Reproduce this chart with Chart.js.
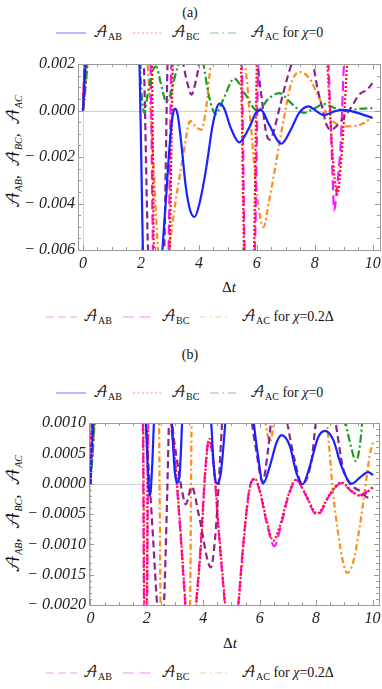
<!DOCTYPE html>
<html><head><meta charset="utf-8">
<script src="https://cdn.jsdelivr.net/npm/chart.js@4.4.1/dist/chart.umd.min.js"></script>
<style>
body{margin:0;width:382px;height:689px;position:relative;background:#fff;overflow:hidden;font-family:"Liberation Serif","Times New Roman",serif;color:#111}
.l{position:absolute;white-space:nowrap;transform:translateY(-50%);font-size:14px;line-height:1}
.c{position:absolute;white-space:nowrap;transform:translate(-50%,-50%);font-size:14px;line-height:1}
.sa{font-family:"DejaVu Math TeX Gyre","DejaVu Serif","Liberation Serif",serif;font-style:normal}
sub{font-size:10px;vertical-align:-3px;line-height:0}
.yt{position:absolute;white-space:nowrap;transform:translate(-50%,-50%) rotate(-90deg);font-style:italic;line-height:1}
svg{position:absolute}
canvas{position:absolute;left:0}
</style></head>
<body>
<div class="c" style="left:190px;top:13px">(a)</div>
<div class="c" style="left:190px;top:355px">(b)</div>
<div id="leg"></div>
<div class="c" style="left:229px;top:287px;font-size:15px">Δ<i>t</i></div>
<div class="c" style="left:230px;top:643px;font-size:15px">Δ<i>t</i></div>
<div class="yt" style="left:14px;top:152px;font-size:16px"><span class="sa">𝒜</span><sub><i>AB</i></sub>,&nbsp; <span class="sa">𝒜</span><sub><i>BC</i></sub>,&nbsp; <span class="sa">𝒜</span><sub><i>AC</i></sub></div>
<div class="yt" style="left:14px;top:514px;font-size:17px"><span class="sa">𝒜</span><sub><i>AB</i></sub>,&nbsp; <span class="sa">𝒜</span><sub><i>BC</i></sub>,&nbsp; <span class="sa">𝒜</span><sub><i>AC</i></sub></div>
<canvas id="ca" width="382" height="260" style="top:40px"></canvas>
<canvas id="cb" width="382" height="260" style="top:400px"></canvas>
<script>
// ---------- data: panel (a) ----------
const xTicksA = [0, 2, 4, 6, 8, 10];
const yTicksA = [-0.006, -0.004, -0.002, 0, 0.002];
const yLabelsA = ['− 0.006', '− 0.004', '− 0.002', '0.000', '0.002'];
const aAB0 = [[0,0],[0.05,0.0011],[0.1,0.0022],[0.4,0.007],[1.0,0.011],[1.7,0.007],[1.95,0.0021],[2.01,-0.002],[2.07,-0.0062],[2.3,-0.011],[2.6,-0.009],[2.73,-0.0062],[2.87,-0.0037],[2.99,-0.0015],[3.1,-0.0002],[3.18,0.00008],[3.27,-0.0002],[3.4,-0.0015],[3.55,-0.0033],[3.7,-0.0043],[3.85,-0.00458],[4.02,-0.0040],[4.25,-0.0025],[4.48,-0.0006],[4.71,0.0003],[4.87,0.0001],[5.1,-0.00075],[5.39,-0.00137],[5.73,-0.00075],[5.97,-0.0001],[6.14,0.00003],[6.42,-0.0006],[6.85,-0.00143],[7.17,-0.00083],[7.46,-0.0001],[7.78,0.00018],[8.09,-0.00006],[8.32,-0.0002],[8.67,-0.00004],[8.95,0.00003],[9.47,-0.0001],[9.99,-0.00032]];
const aBC0 = [[0,0],[0.03,0.0011],[0.06,0.0023],[0.3,0.008],[1.2,0.012],[2.2,0.006],[2.38,0.0021],[2.45,-0.0062],[2.7,-0.01],[2.99,-0.0062],[3.1,0.0021],[3.3,0.006],[4.4,0.012],[5.3,0.006],[5.45,0.0021],[5.56,-0.0062],[5.75,-0.01],[5.9,-0.0062],[6.0,0.0021],[6.2,0.006],[7.4,0.012],[8.3,0.006],[8.43,0.0021],[8.55,-0.0006],[8.66,-0.0026],[8.78,-0.0036],[8.92,-0.002],[9.03,0.0001],[9.12,0.0021],[9.4,0.006],[9.99,0.011]];
const aAC0 = [[0,0],[0.08,0.0009],[0.16,0.0021],[0.5,0.005],[1.1,0.007],[1.75,0.005],[1.95,0.0021],[2.03,0.0006],[2.12,-0.0001],[2.22,0.0006],[2.38,0.0016],[2.52,0.0019],[2.68,0.0012],[2.87,0.0004],[3.05,0.0008],[3.2,0.0016],[3.33,0.0021],[3.7,0.004],[4.14,0.0021],[4.35,0.0006],[4.58,-0.00015],[4.85,0.0005],[5.22,0.00137],[5.6,0.0007],[6.02,-0.00001],[6.4,0.0005],[6.77,0.00075],[7.2,0.0003],[7.63,-0.0001],[8.0,0.0001],[8.32,0.00028],[8.7,0.0001],[9.12,-0.00003],[9.5,0.00007],[9.99,0.0001]];
const aAB2 = [[0,0],[0.03,0.0011],[0.06,0.0023],[0.3,0.008],[1.2,0.012],[1.95,0.006],[2.1,0.0021],[2.25,-0.0062],[2.5,-0.01],[2.8,-0.0062],[2.92,0.0021],[3.1,0.005],[3.3,0.0035],[3.45,0.0021],[3.62,0.0011],[3.74,0.00068],[3.9,0.0013],[4.02,0.0021],[4.3,0.005],[5.2,0.008],[5.85,0.004],[6.02,0.0021],[6.08,0.0014],[6.2,0.0002],[6.31,-0.0009],[6.45,-0.00125],[6.58,-0.0009],[6.8,0.0002],[7.05,0.0014],[7.23,0.0021],[7.55,0.003],[7.92,0.0021],[8.1,0.0009],[8.26,0.0001],[8.4,-0.0006],[8.55,-0.00083],[8.9,-0.00046],[9.24,0.0001],[9.53,0.00068],[9.81,0.0009],[9.99,0.00118]];
const aBC2 = [[0,0],[0.03,0.0011],[0.06,0.0023],[0.3,0.008],[1.2,0.012],[2.1,0.006],[2.33,0.0021],[2.42,-0.0062],[2.7,-0.01],[2.95,-0.0062],[3.05,0.0021],[3.3,0.006],[4.4,0.012],[5.35,0.006],[5.48,0.0021],[5.58,-0.0062],[5.75,-0.01],[5.93,-0.0062],[6.05,0.0021],[6.3,0.006],[7.4,0.012],[8.3,0.006],[8.47,0.0021],[8.55,-0.0006],[8.62,-0.003],[8.67,-0.0043],[8.76,-0.0034],[8.9,-0.0013],[9.01,0.0021],[9.3,0.006],[9.99,0.011]];
const aAC2 = [[0,0],[0.08,0.0009],[0.16,0.0021],[0.5,0.005],[1.2,0.008],[2.0,0.004],[2.22,0.0021],[2.4,-0.0015],[2.6,-0.0062],[2.78,-0.008],[2.95,-0.0062],[3.2,-0.0039],[3.45,-0.002],[3.7,-0.00046],[3.9,-0.0007],[4.08,-0.00083],[4.25,0.0001],[4.42,0.0021],[4.9,0.004],[5.3,0.003],[5.58,0.0021],[5.79,-0.0006],[5.97,-0.0032],[6.14,-0.00477],[6.23,-0.00502],[6.42,-0.0039],[6.65,-0.00233],[6.83,-0.00104],[7.0,0.0001],[7.17,0.00111],[7.46,0.00166],[7.8,0.0014],[8.15,0.00054],[8.43,-0.00018],[8.78,-0.0006],[9.12,-0.00068],[9.59,-0.0006],[9.99,-0.00029]];

// ---------- data: panel (b) ----------
const xTicksB = [0, 2, 4, 6, 8, 10];
const yTicksB = [-0.002, -0.0015, -0.001, -0.0005, 0, 0.0005, 0.001];
const yLabelsB = ['− 0.0020', '− 0.0015', '− 0.0010', '− 0.0005', '0.0000', '0.0005', '0.0010'];
const bAB0 = [[0,0],[0.05,0.0006],[0.12,0.0011],[0.5,0.004],[1.2,0.006],[1.8,0.003],[1.96,0.0011],[2.04,0.0002],[2.11,-0.0002],[2.18,0.0002],[2.26,0.0011],[2.5,0.003],[2.7,0.003],[2.88,0.0011],[2.99,0.0002],[3.08,0.00002],[3.17,0.0002],[3.26,0.0011],[3.5,0.003],[4.0,0.003],[4.27,0.0011],[4.39,0.0002],[4.5,0.0],[4.63,0.0002],[4.8,0.0011],[5.2,0.003],[5.6,0.002],[5.77,0.0011],[5.94,0.00046],[6.12,0.0],[6.36,0.00029],[6.6,0.00068],[6.77,0.0008],[7.07,0.00062],[7.3,0.00018],[7.52,-0.00001],[7.78,0.00029],[8.07,0.00076],[8.31,0.00087],[8.6,0.00073],[8.9,0.00029],[9.26,0.0],[9.55,0.0001],[9.85,0.00019],[10.02,0.00014]];
const bBC0 = [[0,0],[0.03,0.0006],[0.06,0.0011],[0.3,0.004],[1.0,0.006],[1.75,0.003],[1.87,0.0011],[1.91,-0.0021],[1.95,-0.004],[2.0,-0.0021],[2.04,0.0011],[2.2,0.004],[2.6,0.004],[2.85,0.0011],[2.97,0.00057],[3.2,-0.00081],[3.38,-0.00204],[3.55,-0.003],[3.73,-0.0021],[3.91,-0.00108],[4.09,0.00029],[4.21,0.00074],[4.38,0.00029],[4.56,-0.00081],[4.8,-0.0021],[5.0,-0.003],[5.23,-0.0021],[5.41,-0.00108],[5.59,-0.00026],[5.71,0.00004],[5.83,0.00008],[6.0,-0.0001],[6.24,-0.00059],[6.48,-0.00094],[6.71,-0.0007],[7.01,-0.0002],[7.3,0.00007],[7.6,-0.00015],[8.04,-0.00049],[8.49,-0.00017],[8.9,0.00002],[9.26,-0.00012],[9.55,-0.0002],[9.79,-0.00015],[10.02,-0.00005]];
const bAC0 = [[0,0],[0.08,0.0005],[0.16,0.0011],[0.5,0.003],[4,0.006],[8.5,0.003],[9.02,0.0011],[9.26,0.00057],[9.41,0.00037],[9.55,0.00062],[9.65,0.0011],[9.8,0.002],[10.02,0.003]];
const bAB2 = [[0,0],[0.03,0.0006],[0.06,0.0011],[0.3,0.004],[1.0,0.006],[1.8,0.003],[1.96,0.0011],[2.17,-0.0005],[2.38,-0.0021],[2.48,-0.0026],[2.6,-0.0021],[2.72,-0.0002],[2.79,0.0011],[2.83,0.0015],[2.88,0.0011],[3.1,0.0003],[3.26,-0.00015],[3.38,-0.00034],[3.59,-0.00005],[3.85,-0.00053],[4.27,-0.00138],[4.42,-0.0009],[4.55,0.0],[4.68,0.0011],[5.0,0.003],[5.5,0.002],[5.7,0.0011],[5.89,0.00051],[6.1,0.00003],[6.3,0.00057],[6.42,0.0011],[6.7,0.002],[6.95,0.0011],[7.24,0.00039],[7.5,0.0],[7.84,0.00039],[8.01,0.0011],[8.3,0.002],[8.66,0.0011],[8.96,0.00025],[9.2,0.0],[9.55,-0.00012],[9.85,-0.00023],[10.02,-0.00022]];
const bBC2 = [[0,0],[0.03,0.0006],[0.06,0.0011],[0.3,0.004],[1.0,0.006],[1.75,0.003],[1.86,0.0011],[1.9,-0.0021],[1.95,-0.004],[2.01,-0.0021],[2.05,0.0011],[2.2,0.004],[2.6,0.004],[2.84,0.0011],[2.96,0.00057],[3.19,-0.00081],[3.37,-0.00204],[3.55,-0.003],[3.72,-0.0021],[3.9,-0.00108],[4.08,0.00029],[4.2,0.00072],[4.37,0.00029],[4.55,-0.00081],[4.79,-0.0021],[5.0,-0.003],[5.22,-0.0021],[5.4,-0.00108],[5.58,-0.00026],[5.7,0.00003],[5.82,0.00007],[6.0,-0.00012],[6.25,-0.00065],[6.52,-0.00103],[6.75,-0.0007],[7.02,-0.0002],[7.3,0.00006],[7.6,-0.00016],[8.04,-0.00052],[8.49,-0.00018],[8.9,0.00001],[9.26,-0.00013],[9.55,-0.00019],[9.8,-0.00013],[10.02,-0.00007]];
const bAC2 = [[0,0],[0.08,0.0005],[0.16,0.0011],[0.5,0.003],[1.3,0.005],[2.2,0.003],[2.43,0.0011],[2.49,-0.0021],[2.8,-0.004],[3.25,-0.004],[3.53,-0.0021],[3.59,0.0011],[3.9,0.003],[5.0,0.004],[6.0,0.002],[6.18,0.0011],[6.37,0.0007],[6.53,0.0011],[6.8,0.002],[7.6,0.004],[8.2,0.002],[8.37,0.0011],[8.49,0.00046],[8.6,-0.00015],[8.78,-0.00081],[8.96,-0.0013],[9.1,-0.00147],[9.31,-0.0013],[9.55,-0.0007],[9.73,-0.0001],[9.9,0.00046],[10.02,0.0007]];

// ---------- styles ----------
const ST = {
  ab0: {c:'#1a22ff', d:[], w:2.2},
  bc0: {c:'#ff1010', d:[2,2], w:2.2},
  ac0: {c:'#1e9e1e', d:[8,3,2,3], w:2.2},
  ab2: {c:'#8c2390', d:[7,4], w:2.2},
  bc2: {c:'#ff14ff', d:[10,5], w:2.2},
  ac2: {c:'#ff8c1a', d:[6,3,2,3], w:2.2}
};
const legendTop = [['ab0','AB',''],['bc0','BC',''],['ac0','AC',' for <i>χ</i>=0']];
const legendBot = [['ab2','AB',''],['bc2','BC',''],['ac2','AC',' for <i>χ</i>=0.2Δ']];
const legLight = {ab0:'#8a8aff', bc0:'#ff9090', ac0:'#8ccc8c', ab2:'#e8a0e8', bc2:'#ff88ff', ac2:'#ffcc99'};

// ---------- legends (HTML) ----------
function legendRow(items, y, xs){
  let h = '';
  items.forEach((it, i) => {
    const s = ST[it[0]], [x0, x1, xt] = xs[i];
    h += `<svg style="left:${x0}px;top:${y-3}px" width="${x1-x0}" height="6"><line x1="0" y1="3" x2="${x1-x0}" y2="3" stroke="${legLight[it[0]]}" stroke-width="1.2" stroke-dasharray="${s.d.length? s.d.map(v=>v*1.1).join(' '):'none'}"/></svg>`;
    h += `<div class="l" style="left:${xt}px;top:${y}px"><span class="sa">𝒜</span><sub>${it[1]}</sub>${it[2]}</div>`;
  });
  return h;
}
const xsTop = [[56,86,93],[133,163,171],[210,240,250]];
const xsBot = [[46,77,83],[123,153,161],[200,230,241]];
document.getElementById('leg').innerHTML =
  legendRow(legendTop, 33, xsTop) + legendRow(legendBot, 317, xsBot) +
  legendRow(legendTop, 393, xsTop) + legendRow(legendBot, 673, xsBot);

// ---------- chart helpers ----------
const toXY = a => a.map(p => ({x:p[0], y:p[1]}));
function ds(key, arr){
  const s = ST[key];
  return {data: toXY(arr), borderColor: s.c, borderWidth: s.w, borderDash: s.d,
          pointRadius: 0, cubicInterpolationMode: 'monotone', fill: false, clip: 0};
}
const framePlugin = {
  id: 'frame',
  beforeDatasetsDraw(chart){
    const {ctx, chartArea:a, scales:{x, y}} = chart;
    ctx.save();
    ctx.strokeStyle = '#cfcfcf'; ctx.lineWidth = 1;
    const y0 = Math.round(y.getPixelForValue(0)) + 0.5, x0 = Math.round(x.getPixelForValue(0)) + 0.5;
    ctx.beginPath(); ctx.moveTo(a.left, y0); ctx.lineTo(a.right, y0);
    ctx.moveTo(x0, a.top); ctx.lineTo(x0, a.bottom); ctx.stroke();
    ctx.restore();
  },
  afterDatasetsDraw(chart, args, o){
    const {ctx, chartArea:a, scales:{x, y}} = chart;
    ctx.save();
    ctx.strokeStyle = '#9a9a9a'; ctx.lineWidth = 1;
    ctx.strokeRect(Math.round(a.left)+0.5, Math.round(a.top)+0.5, Math.round(a.right-a.left), Math.round(a.bottom-a.top));
    ctx.beginPath();
    const xt = (v, L) => { const p = Math.round(x.getPixelForValue(v))+0.5;
      ctx.moveTo(p, a.bottom); ctx.lineTo(p, a.bottom-L); ctx.moveTo(p, a.top); ctx.lineTo(p, a.top+L); };
    const yt = (v, L) => { const p = Math.round(y.getPixelForValue(v))+0.5;
      ctx.moveTo(a.left, p); ctx.lineTo(a.left+L, p); ctx.moveTo(a.right, p); ctx.lineTo(a.right-L, p); };
    const nx = Math.round((o.xMax - o.xMin) / o.xMinor);
    for (let i = 0; i <= nx; i++) { const v = o.xMin + i*o.xMinor; xt(v, o.xMajor.some(m => Math.abs(m-v) < 1e-9) ? 5 : 3); }
    const ny = Math.round((o.yMax - o.yMin) / o.yMinor);
    for (let i = 0; i <= ny; i++) { const v = o.yMin + i*o.yMinor; yt(v, o.yMajor.some(m => Math.abs(m-v) < 1e-12) ? 5 : 3); }
    ctx.stroke();
    ctx.restore();
  }
};
const tickFont = {family:'"Liberation Serif", "Times New Roman", serif', style:'italic', size:16};
function makeChart(id, sets, cfg){
  return new Chart(document.getElementById(id), {
    type: 'line',
    data: {datasets: sets},
    plugins: [framePlugin],
    options: {
      responsive: false, animation: false, devicePixelRatio: 1,
      layout: {padding: {left: 0, right: cfg.padR, top: cfg.padT, bottom: 0}},
      plugins: {legend: {display: false}, tooltip: {enabled: false},
        frame: {xMin: 0, xMax: 10, xMinor: 0.5, xMajor: cfg.xTicks,
                yMin: cfg.yTicks[0], yMax: cfg.yTicks[cfg.yTicks.length-1], yMinor: cfg.yMinor, yMajor: cfg.yTicks}},
      scales: {
        x: {type: 'linear', min: cfg.xmin, max: cfg.xmax,
            grid: {display: false, drawTicks: false}, border: {display: false},
            afterBuildTicks: s => { s.ticks = cfg.xTicks.map(v => ({value: v})); },
            afterFit: s => { s.height = cfg.xH; s.paddingLeft = 0; s.paddingRight = 0; },
            ticks: {font: tickFont, color: '#222', padding: cfg.xPad, maxRotation: 0, autoSkip: false,
                    callback: v => String(v)}},
        y: {type: 'linear', min: cfg.yTicks[0], max: cfg.yTicks[cfg.yTicks.length-1],
            grid: {display: false, drawTicks: false}, border: {display: false},
            afterBuildTicks: s => { s.ticks = cfg.yTicks.map(v => ({value: v})); },
            afterFit: s => { s.width = cfg.yW; s.paddingTop = 0; s.paddingBottom = 0; },
            ticks: {font: tickFont, color: '#222', padding: 3, autoSkip: false,
                    callback: (v, i) => cfg.yLabels[i]}}
      }
    }
  });
}
makeChart('ca', [ds('ab0', aAB0), ds('bc0', aBC0), ds('ac0', aAC0), ds('ab2', aAB2), ds('bc2', aBC2), ds('ac2', aAC2)],
  {xmin: -0.172, xmax: 10.25, xTicks: xTicksA, yTicks: yTicksA, yLabels: yLabelsA, yMinor: 0.0005,
   padR: 2, padT: 24, xH: 50, yW: 78, xPad: 4});
makeChart('cb', [ds('ab0', bAB0), ds('bc0', bBC0), ds('ac0', bAC0), ds('ab2', bAB2), ds('bc2', bBC2), ds('ac2', bAC2)],
  {xmin: -0.05, xmax: 10.23, xTicks: xTicksB, yTicks: yTicksB, yLabels: yLabelsB, yMinor: 0.0001,
   padR: 3, padT: 23, xH: 55, yW: 89, xPad: 4});
</script>
</body></html>
